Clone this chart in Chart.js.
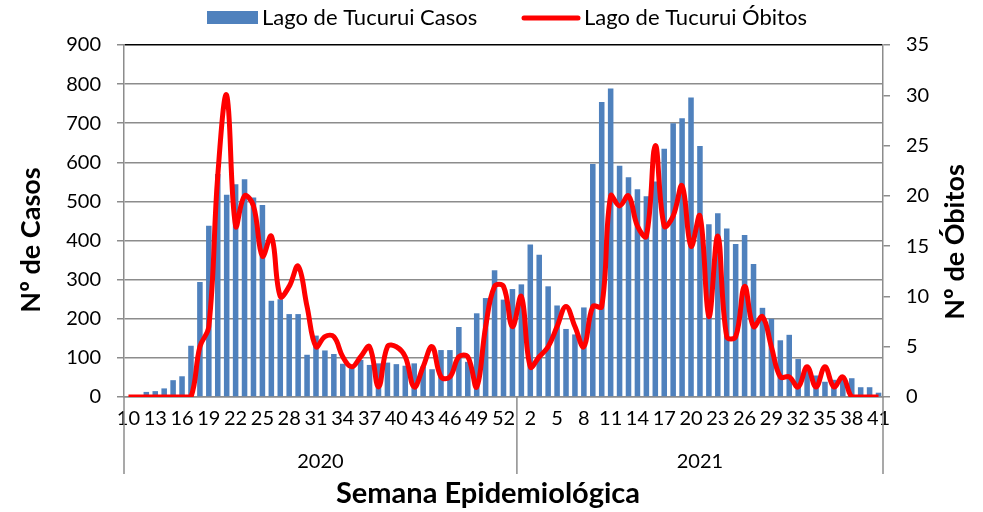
<!DOCTYPE html>
<html>
<head>
<meta charset="utf-8">
<script src="https://cdn.jsdelivr.net/npm/chart.js@4/dist/chart.umd.min.js"></script>
<style>
  html, body { margin: 0; padding: 0; background: #fff; }
  canvas { display: block; }
</style>
</head>
<body>
<canvas id="grafico" width="983" height="512"></canvas>
<script>
// semanas epidemiológicas (2020 tem 53 semanas)
const semanas2020 = [10, 11, 12, 13, 14, 15, 16, 17, 18, 19, 20, 21, 22, 23, 24, 25, 26, 27, 28, 29, 30, 31,
    32, 33, 34, 35, 36, 37, 38, 39, 40, 41, 42, 43, 44, 45, 46, 47, 48, 49, 50, 51, 52, 53];
const semanas2021 = [1, 2, 3, 4, 5, 6, 7, 8, 9, 10, 11, 12, 13, 14, 15, 16, 17, 18, 19, 20, 21,
    22, 23, 24, 25, 26, 27, 28, 29, 30, 31, 32, 33, 34, 35, 36, 37, 38, 39, 40, 41];
const anos = ['2020', '2021'];

const casos2020 = [0, 2, 13, 15, 22, 43, 53, 131, 294, 438,
    570, 517, 544, 557, 510, 491, 246, 250, 212, 212,
    108, 157, 119, 110, 85, 74, 95, 82, 86, 88,
    84, 80, 86, 78, 71, 120, 120, 179, 90, 214,
    253, 324, 249, 276];
const casos2021 = [288, 390, 364, 283, 234, 174, 160, 229, 596, 754,
    789, 591, 562, 531, 513, 551, 635, 700, 713, 766,
    642, 442, 470, 431, 391, 414, 340, 228, 200, 145,
    159, 97, 72, 55, 39, 44, 45, 48, 25, 25,
    11];

const obitos2020 = [0, 0, 0, 0, 0, 0, 0, 0, 5, 7,
    22, 30, 17, 20, 19, 14, 16, 10, 11, 13,
    9, 5, 6, 6, 4, 3, 4, 5, 1, 5,
    5, 4, 1, 3, 5, 2, 2, 4, 4, 1,
    7, 11, 11, 7];
const obitos2021 = [10, 3, 4, 5, 7, 9, 7, 5, 9, 9,
    20, 19, 20, 17, 16, 25, 17, 18, 21, 15,
    18, 8, 16, 6, 6, 11, 7, 8, 5, 2,
    2, 1, 3, 1, 3, 1, 2, 0, 0, 0,
    0];

const ticksCasos = [0, 100, 200, 300, 400, 500, 600, 700, 800, 900];
const ticksObitos = [0, 5, 10, 15, 20, 25, 30, 35];

const semanas = semanas2020.concat(semanas2021);
const casos = casos2020.concat(casos2021);
const obitos = obitos2020.concat(obitos2021);

const cinza = '#8c8c8c';
const fonte = 'Lato';

// anos, separadores, títulos e legenda desenhados à parte
const extras = {
    id: 'extras',
    afterDraw(chart) {
        const { ctx, chartArea: area, scales: { x } } = chart;
        const n = semanas2020.length;
        const corte = (x.getPixelForTick(n - 1) + x.getPixelForTick(n)) / 2;

        ctx.save();
        ctx.strokeStyle = cinza;
        ctx.lineWidth = 1.5;
        [area.left, corte, area.right].forEach(px => {
            ctx.beginPath();
            ctx.moveTo(px, area.bottom);
            ctx.lineTo(px, area.bottom + 77);
            ctx.stroke();
        });

        ctx.fillStyle = '#000';
        ctx.textAlign = 'center';
        ctx.textBaseline = 'middle';
        ctx.font = '20px ' + fonte;
        ctx.fillText(anos[0], (area.left + corte) / 2, area.bottom + 65);
        ctx.fillText(anos[1], (corte + area.right) / 2, area.bottom + 65);

        ctx.font = 'bold 29px ' + fonte;
        ctx.fillText('Semana Epidemiológica', 488, 494);

        ctx.font = 'bold 27px ' + fonte;
        ctx.save();
        ctx.translate(31, 240);
        ctx.rotate(-Math.PI / 2);
        ctx.fillText('Nº de Casos', 0, 0);
        ctx.restore();

        ctx.save();
        ctx.translate(955, 242);
        ctx.rotate(-Math.PI / 2);
        ctx.fillText('Nº de Óbitos', 0, 0);
        ctx.restore();

        // legenda
        ctx.textAlign = 'left';
        ctx.font = '22px ' + fonte;
        ctx.fillStyle = '#4f81bd';
        ctx.fillRect(207, 11, 51, 13);
        ctx.fillStyle = '#000';
        ctx.fillText(chart.data.datasets[0].label, 262, 18);

        ctx.strokeStyle = '#ff0000';
        ctx.lineWidth = 5;
        ctx.lineCap = 'round';
        ctx.beginPath();
        ctx.moveTo(524, 18);
        ctx.lineTo(578, 18);
        ctx.stroke();
        ctx.fillText(chart.data.datasets[1].label, 584, 18);
        ctx.restore();
    }
};

new Chart(document.getElementById('grafico'), {
    type: 'bar',
    data: {
        labels: semanas,
        datasets: [{
            type: 'bar',
            label: 'Lago de Tucurui Casos',
            data: casos,
            yAxisID: 'y',
            backgroundColor: '#4f81bd',
            barPercentage: 0.62,
            categoryPercentage: 1,
            order: 1
        }, {
            type: 'line',
            label: 'Lago de Tucurui Óbitos',
            data: obitos,
            yAxisID: 'y1',
            borderColor: '#ff0000',
            borderWidth: 5,
            pointRadius: 0,
            tension: 0.4,
            fill: false,
            order: 0
        }]
    },
    options: {
        responsive: false,
        animation: false,
        layout: { padding: { top: 45, left: 0, right: 0, bottom: 0 } },
        plugins: {
            legend: { display: false },
            tooltip: { enabled: false }
        },
        scales: {
            x: {
                offset: true,
                grid: { display: false, drawTicks: false },
                border: { color: cinza, width: 1.5 },
                ticks: {
                    autoSkip: false,
                    maxRotation: 0,
                    minRotation: 0,
                    padding: 10,
                    color: '#000',
                    font: { family: fonte, size: 20 },
                    callback(value, index) {
                        return index % 3 === 0 ? this.getLabelForValue(value) : '';
                    }
                },
                afterFit(scale) { scale.height = 115; }
            },
            y: {
                position: 'left',
                min: 0,
                max: ticksCasos[ticksCasos.length - 1],
                afterBuildTicks(scale) { scale.ticks = ticksCasos.map(v => ({ value: v })); },
                ticks: { padding: 16, color: '#000', font: { family: fonte, size: 20 } },
                grid: {
                    color: c => c.tick && c.tick.value === 900 ? '#000' : cinza,
                    tickColor: cinza,
                    lineWidth: 1.5,
                    tickLength: 7
                },
                border: { color: cinza, width: 1.5 },
                afterFit(scale) { scale.width = 124; }
            },
            y1: {
                position: 'right',
                min: 0,
                max: ticksObitos[ticksObitos.length - 1],
                afterBuildTicks(scale) { scale.ticks = ticksObitos.map(v => ({ value: v })); },
                ticks: { padding: 16, color: '#000', font: { family: fonte, size: 20 } },
                grid: { drawOnChartArea: false, color: cinza, lineWidth: 1.5, tickLength: 7 },
                border: { color: cinza, width: 1.5 },
                afterFit(scale) { scale.width = 100; }
            }
        }
    },
    plugins: [extras]
});
</script>
</body>
</html>
